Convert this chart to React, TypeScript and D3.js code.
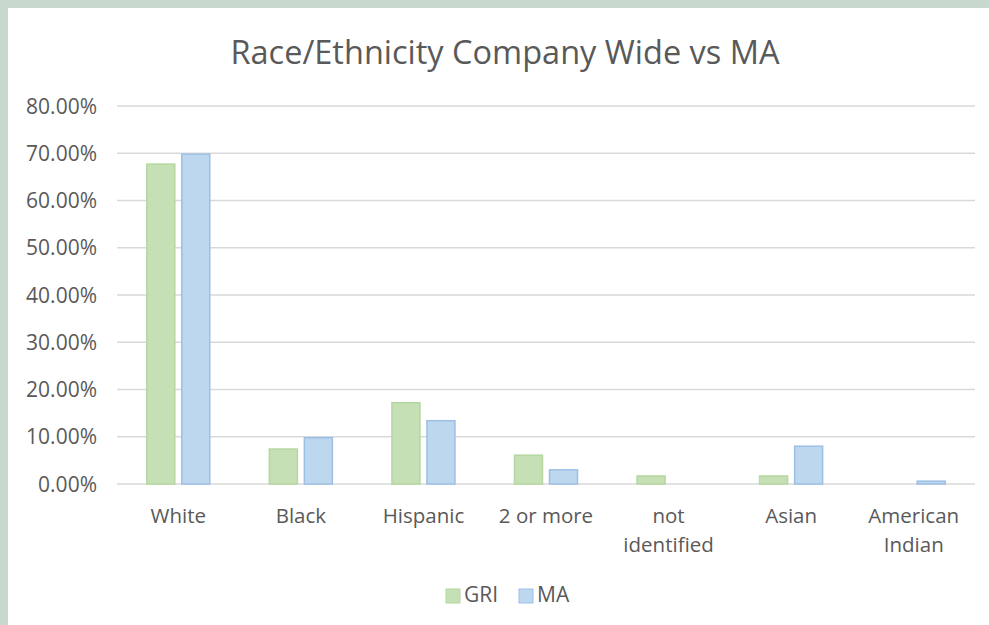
import React from "react";
import * as d3 from "d3";

const categories: string[][] = [
  ["White"],
  ["Black"],
  ["Hispanic"],
  ["2 or more"],
  ["not", "identified"],
  ["Asian"],
  ["American", "Indian"],
];
const griValues = [0.677, 0.074, 0.172, 0.061, 0.017, 0.017, 0.0];
const maValues = [0.698, 0.098, 0.134, 0.030, 0.0, 0.080, 0.006];
const yTicks = [0, 0.1, 0.2, 0.3, 0.4, 0.5, 0.6, 0.7, 0.8];
const seriesNames = ["GRI", "MA"];

const W = 989;
const H = 625;
const FONT = "'Open Sans', Lato, sans-serif";

export default function App() {
  const x0 = d3
    .scaleBand<number>()
    .domain(categories.map((_, i) => i))
    .range([117, 975]);
  const y = d3.scaleLinear().domain([0, 0.8]).range([484, 106]);
  const barW = 28;
  const gap = 7;
  const fills = ["#c5e0b4", "#bdd7ee"];
  const strokes = ["#b4d8a0", "#9dbfe6"];
  const fmt = d3.format(".2%");

  return (
    <svg
      width={W}
      height={H}
      style={{ display: "block", position: "absolute", left: 0, top: 0 }}
    >
      <rect x={0} y={0} width={W} height={H} fill="#ffffff" />
      <rect x={0} y={0} width={W} height={8} fill="#c8d8ce" />
      <rect x={0} y={0} width={8} height={H} fill="#c8d8ce" />
      <text
        x={505}
        y={64}
        textAnchor="middle"
        fontFamily={FONT}
        fontSize={32.5}
        fill="#595959"
      >
        Race/Ethnicity Company Wide vs MA
      </text>
      {yTicks.map((t) => (
        <g key={t}>
          <line
            x1={117}
            x2={975}
            y1={y(t)}
            y2={y(t)}
            stroke="#d9d9d9"
            strokeWidth={1.5}
          />
          <text
            x={97}
            y={y(t)}
            dy="0.36em"
            textAnchor="end"
            fontFamily={FONT}
            fontSize={21}
            fill="#595959"
          >
            {fmt(t)}
          </text>
        </g>
      ))}
      {categories.map((c, i) => {
        const cx = (x0(i) as number) + x0.bandwidth() / 2;
        return (
          <g key={i}>
            {[griValues[i], maValues[i]].map((v, s) =>
              v > 0 ? (
                <rect
                  key={s}
                  x={s === 0 ? cx - gap / 2 - barW : cx + gap / 2}
                  y={y(v)}
                  width={barW}
                  height={y(0) - y(v)}
                  fill={fills[s]}
                  stroke={strokes[s]}
                  strokeWidth={1.5}
                />
              ) : null
            )}
            {c.map((line, li) => (
              <text
                key={li}
                x={cx}
                y={523 + li * 29}
                textAnchor="middle"
                fontFamily={FONT}
                fontSize={20.5}
                fill="#595959"
              >
                {line}
              </text>
            ))}
          </g>
        );
      })}
      {seriesNames.map((n, s) => {
        const lx = s === 0 ? 446 : 519;
        return (
          <g key={n}>
            <rect
              x={lx}
              y={589}
              width={14}
              height={14}
              fill={fills[s]}
              stroke={strokes[s]}
            />
            <text
              x={lx + 18}
              y={602}
              fontFamily={FONT}
              fontSize={21}
              fill="#595959"
            >
              {n}
            </text>
          </g>
        );
      })}
    </svg>
  );
}
